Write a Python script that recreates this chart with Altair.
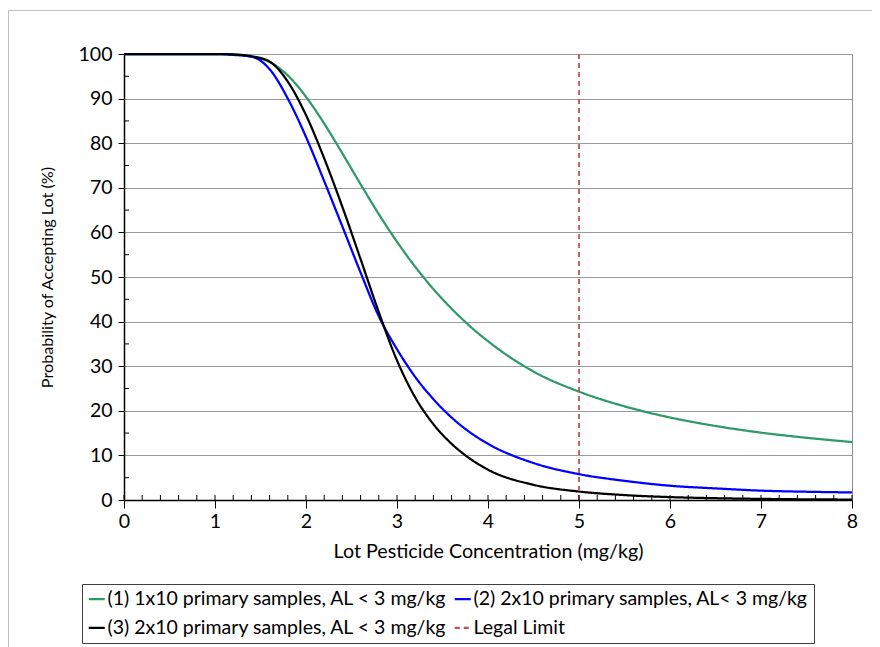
import altair as alt
import pandas as pd

# ---------------- data ----------------
conc = [0, 0.5, 1.0, 1.2, 1.4, 1.6, 1.8, 2.0, 2.2, 2.4, 2.6, 2.8, 3.0, 3.2, 3.4,
        3.6, 3.8, 4.0, 4.5, 5.0, 5.5, 6.0, 6.5, 7.0, 7.5, 8.0]
green = [100, 100, 100, 99.9, 99.4, 98.2, 95.2, 90.4, 84.4, 77.7, 70.8, 64.1, 57.9,
         52.3, 47.3, 42.9, 39.0, 35.6, 28.8, 24.3, 21.0, 18.5, 16.6, 15.1, 13.95, 13.0]
blue = [100, 100, 100, 99.8, 99.4, 96.6, 90.0, 81.4, 71.5, 61.3, 51.0, 41.2, 33.8,
        27.6, 22.6, 18.5, 15.2, 12.6, 8.3, 5.8, 4.3, 3.2, 2.6, 2.1, 1.85, 1.7]
black = [100, 100, 100, 99.9, 99.5, 98.3, 93.8, 86.3, 76.6, 65.7, 54.0, 42.1, 31.3,
         23.0, 17.0, 12.6, 9.3, 6.8, 3.4, 1.9, 1.1, 0.65, 0.4, 0.25, 0.15, 0.1]

series_names = [
    "(1) 1x10 primary samples, AL < 3 mg/kg",
    "(2) 2x10 primary samples, AL< 3 mg/kg",
    "(3) 2x10 primary samples, AL < 3 mg/kg",
    "Legal Limit",
]
series_colors = ["#2E9A68", "#0000FF", "#000000", "#C0504D"]
series_dash = [[1, 0], [1, 0], [1, 0], [5, 4]]
legal_limit = [5]

x_ticks = [0, 1, 2, 3, 4, 5, 6, 7, 8]
y_ticks = [0, 10, 20, 30, 40, 50, 60, 70, 80, 90, 100]
x_minor = [round(i * 0.2, 1) for i in range(41)]
y_minor = [5, 15, 25, 35, 45, 55, 65, 75, 85, 95]

x_title = "Lot Pesticide Concentration (mg/kg)"
y_title = "Probability of Accepting Lot (%)"

# ---------------- tables ----------------
rows = []
for name, vals in zip(series_names[:3], [green, blue, black]):
    for c, v in zip(conc, vals):
        rows.append({"series": name, "conc": c, "p": v})
curves = pd.DataFrame(rows)
limit = pd.DataFrame({"series": ["Legal Limit"] * len(legal_limit), "conc": legal_limit})

FONT = "Lato"
W, H = 728, 446

legend = alt.Legend(
    orient="none", legendX=-42, legendY=530, columns=2, direction="horizontal",
    symbolType="stroke", symbolSize=256, symbolStrokeWidth=2.25, labelFont=FONT,
    labelFontSize=19.5, labelColor="black", labelOffset=1, columnPadding=2,
    rowPadding=8, padding=5, strokeColor="#404040", labelLimit=600,
)
color = alt.Color("series:N", title=None, legend=legend,
                  scale=alt.Scale(domain=series_names, range=series_colors))
dash = alt.StrokeDash("series:N", title=None, legend=legend,
                      scale=alt.Scale(domain=series_names, range=series_dash))

xscale = alt.Scale(domain=[0, 8], nice=False)
yscale = alt.Scale(domain=[0, 100], nice=False)

xenc = alt.X("conc:Q", title=x_title, scale=xscale,
             axis=alt.Axis(values=x_ticks, format="d", grid=False, tickSize=8,
                           labelPadding=4, titlePadding=11, titleFontSize=19.7,
                           domainWidth=1.5, labelFlush=False))
yenc = alt.Y("p:Q", title=y_title, scale=yscale,
             axis=alt.Axis(values=y_ticks, grid=True, tickSize=6, labelPadding=6,
                           titlePadding=23, titleFontSize=16.2, domainWidth=1.5))

frame = alt.Chart(pd.DataFrame({"a": [0]})).mark_rect(
    fillOpacity=0, stroke="#BFBFBF", strokeWidth=1
).encode(x=alt.value(-115.5), x2=alt.value(W + 60), y=alt.value(-43.5), y2=alt.value(H + 300))

lines = alt.Chart(curves).mark_line(strokeWidth=2.25, interpolate="monotone").encode(
    x=xenc, y=yenc, color=color, strokeDash=dash
)
limit_rule = alt.Chart(limit).mark_rule(strokeWidth=1.75).encode(
    x=alt.X("conc:Q", title=x_title, scale=xscale), color=color, strokeDash=dash
)
xminor = alt.Chart(pd.DataFrame({"conc": x_minor})).mark_rule(color="black", strokeWidth=1).encode(
    x=alt.X("conc:Q", title=x_title, scale=xscale), y=alt.value(H - 5), y2=alt.value(H)
)
yminor = alt.Chart(pd.DataFrame({"p": y_minor})).mark_rule(color="black", strokeWidth=1).encode(
    y=alt.Y("p:Q", title=y_title, scale=yscale), x=alt.value(0), x2=alt.value(5)
)

chart = alt.layer(frame, lines, limit_rule, xminor, yminor).properties(
    width=W, height=H,
    autosize=alt.AutoSizeParams(type="none"),
    padding={"left": 116, "top": 46, "right": 20, "bottom": 147},
).configure_view(
    stroke="#8C8C8C", strokeWidth=1
).configure_axis(
    labelFont=FONT, titleFont=FONT, labelFontSize=19.5, titleFontSize=19.5,
    labelColor="black", titleColor="black", titleFontWeight="normal",
    domainColor="black", tickColor="black", gridColor="#9A9A9A", gridWidth=1,
)

chart.save("out.html", embed_options={"renderer": "svg", "actions": False})
